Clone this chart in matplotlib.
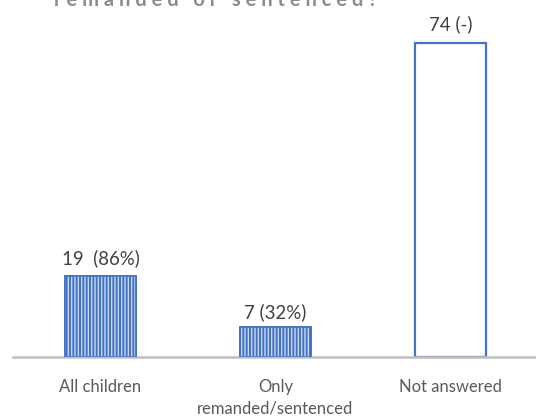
import matplotlib.pyplot as plt
import numpy as np

# data
categories = ['All children', 'Only\nremanded/sentenced', 'Not answered']
counts = [19, 7, 74]
value_labels = ['19  (86%)', '7 (32%)', '74 (-)']
hatched = [True, True, False]

plt.rcParams['font.family'] = ['Lato', 'DejaVu Sans']

fig = plt.figure(figsize=(5.36, 4.16), dpi=100)
ax = fig.add_axes([13 / 536, 1 - 357 / 416, 525 / 536, 339.5 / 416])

blue = '#4472C4'
x = np.arange(len(categories))
width = 0.41

for xi, val, h in zip(x, counts, hatched):
    if h:
        ax.bar(xi, val, width, color=blue, edgecolor=blue, linewidth=1.2, zorder=2)
        ax.bar(xi, val, width, fill=False, hatch='|||||', edgecolor='#c9d7f0',
               linewidth=0, zorder=3)
        ax.bar(xi, val, width, fill=False, edgecolor=blue, linewidth=1.2, zorder=4)
    else:
        ax.bar(xi, val, width, color='white', edgecolor=blue, linewidth=1.6, zorder=2)

label_gap = [2.1, 1.4, 2.3]
for xi, val, lab, g in zip(x, counts, value_labels, label_gap):
    ax.text(xi, val + g, lab, ha='center', va='bottom', fontsize=13.4,
            color='#404040')

ax.set_xlim(-0.5, 2.5)
ax.set_ylim(0, 80)
ax.set_xticks(x)
ax.set_xticklabels(categories, fontsize=12, color='#595959', linespacing=1.43)
ax.tick_params(axis='x', length=0, pad=16)
ax.set_yticks([])
for s in ['top', 'right', 'left']:
    ax.spines[s].set_visible(False)
ax.spines['bottom'].set_color('#bfbfbf')
ax.spines['bottom'].set_linewidth(1.8)

# title, cut off at the top of the image
fig.text(216 / 536, 1 - 6 / 416, 'r e m a n d e d   o r   s e n t e n c e d ?',
         ha='center', va='baseline', fontsize=14.5, fontweight='bold', color='#8c8c8c')

fig.savefig('out.png', dpi=100)
